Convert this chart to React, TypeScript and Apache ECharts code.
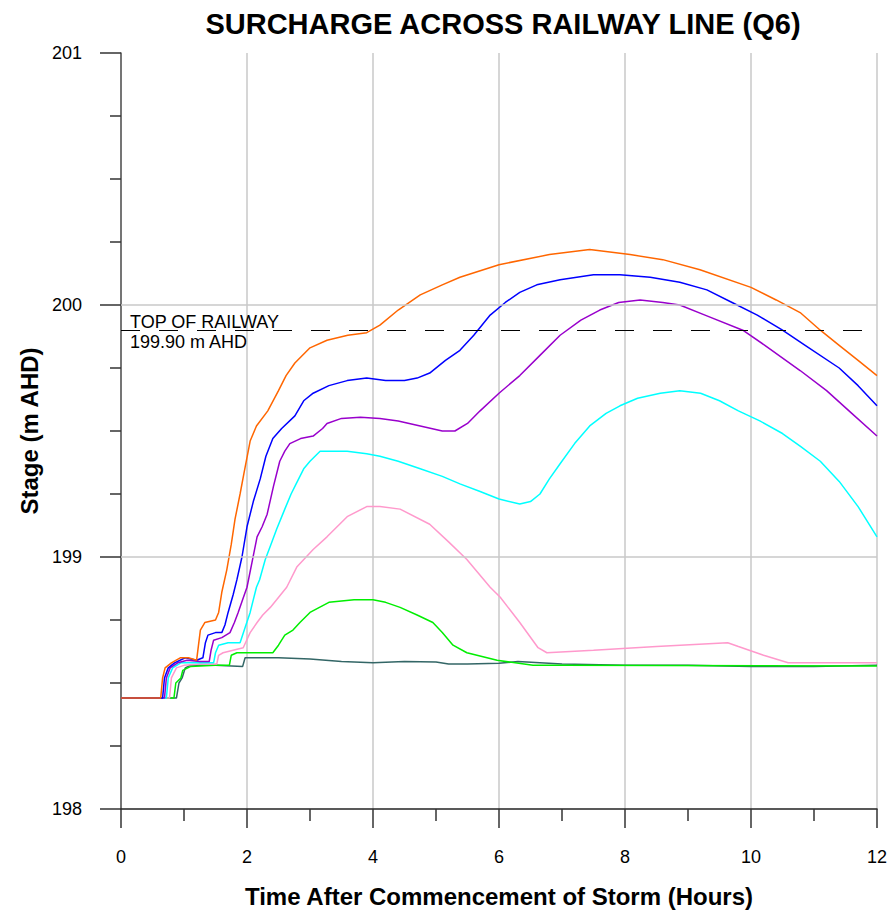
import React, { useEffect, useRef } from "react";
import * as echarts from "echarts";

const titleText = "SURCHARGE ACROSS RAILWAY LINE (Q6)";
const xName = "Time After Commencement of Storm (Hours)";
const yName = "Stage (m AHD)";
const railwayLevel = 199.9;
const railwayLabel1 = "TOP OF RAILWAY";
const railwayLabel2 = "199.90 m AHD";
const gridLevels = [199, 200];

const orange = [[0,198.44],[0.63,198.44],[0.66,198.52],[0.7,198.56],[0.8,198.58],[0.94,198.6],[1.07,198.6],[1.2,198.59],[1.23,198.65],[1.26,198.71],[1.33,198.74],[1.5,198.75],[1.55,198.78],[1.6,198.86],[1.68,198.95],[1.75,199.05],[1.81,199.15],[1.89,199.25],[1.95,199.33],[2.05,199.46],[2.15,199.52],[2.33,199.58],[2.5,199.66],[2.62,199.72],[2.76,199.77],[3.0,199.83],[3.27,199.86],[3.6,199.88],[3.9,199.89],[4.11,199.92],[4.4,199.98],[4.75,200.04],[5.1,200.08],[5.38,200.11],[6.0,200.16],[6.8,200.2],[7.44,200.22],[8.08,200.2],[8.6,200.18],[9.19,200.14],[10.0,200.07],[10.4,200.02],[10.78,199.97],[11.1,199.9],[11.4,199.84],[11.7,199.78],[12,199.72]];
const blue = [[0,198.44],[0.66,198.44],[0.69,198.52],[0.75,198.56],[0.85,198.58],[1.02,198.6],[1.2,198.59],[1.3,198.6],[1.34,198.66],[1.38,198.69],[1.5,198.7],[1.6,198.7],[1.65,198.73],[1.7,198.78],[1.78,198.85],[1.84,198.91],[1.92,199.0],[2.0,199.12],[2.1,199.22],[2.21,199.31],[2.3,199.4],[2.41,199.47],[2.55,199.51],[2.76,199.56],[2.9,199.62],[3.05,199.65],[3.3,199.68],[3.59,199.7],[3.9,199.71],[4.2,199.7],[4.5,199.7],[4.7,199.71],[4.9,199.73],[5.15,199.78],[5.38,199.82],[5.6,199.88],[5.86,199.96],[6.1,200.01],[6.33,200.05],[6.6,200.08],[6.97,200.1],[7.5,200.12],[7.92,200.12],[8.4,200.11],[8.87,200.09],[9.3,200.06],[9.7,200.01],[10.1,199.96],[10.5,199.9],[10.86,199.84],[11.4,199.75],[11.7,199.68],[12,199.6]];
const purple = [[0,198.44],[0.69,198.44],[0.72,198.52],[0.78,198.56],[0.9,198.58],[1.05,198.59],[1.25,198.585],[1.4,198.585],[1.43,198.63],[1.47,198.67],[1.6,198.68],[1.73,198.7],[1.8,198.74],[1.86,198.78],[1.93,198.83],[2.0,198.88],[2.08,198.98],[2.16,199.08],[2.24,199.12],[2.32,199.17],[2.42,199.28],[2.52,199.38],[2.6,199.42],[2.68,199.45],[2.85,199.47],[3.05,199.48],[3.2,199.51],[3.27,199.53],[3.5,199.55],[3.8,199.555],[4.11,199.55],[4.4,199.54],[4.75,199.52],[5.1,199.5],[5.3,199.5],[5.5,199.53],[5.7,199.58],[6.0,199.65],[6.33,199.72],[6.65,199.8],[6.97,199.88],[7.3,199.94],[7.6,199.98],[7.9,200.01],[8.24,200.02],[8.6,200.01],[8.87,200.0],[9.27,199.96],[9.87,199.9],[10.22,199.84],[10.78,199.74],[11.2,199.66],[11.6,199.57],[12,199.48]];
const cyan = [[0,198.44],[0.72,198.44],[0.75,198.52],[0.82,198.56],[0.95,198.58],[1.2,198.58],[1.47,198.58],[1.5,198.62],[1.55,198.65],[1.7,198.66],[1.89,198.66],[1.97,198.72],[2.05,198.78],[2.15,198.88],[2.2,198.91],[2.29,198.99],[2.38,199.05],[2.47,199.11],[2.6,199.19],[2.7,199.25],[2.78,199.29],[2.9,199.35],[3.0,199.38],[3.16,199.42],[3.59,199.42],[3.9,199.41],[4.11,199.4],[4.4,199.38],[4.75,199.35],[5.1,199.32],[5.38,199.29],[5.7,199.26],[6.0,199.23],[6.33,199.21],[6.5,199.22],[6.65,199.25],[6.8,199.31],[6.97,199.37],[7.2,199.45],[7.44,199.52],[7.7,199.57],[7.92,199.6],[8.2,199.63],[8.56,199.65],[8.87,199.66],[9.2,199.65],[9.5,199.62],[9.8,199.58],[10.14,199.54],[10.5,199.49],[10.78,199.44],[11.1,199.38],[11.4,199.3],[11.7,199.2],[12,199.08]];
const pink = [[0,198.44],[0.77,198.44],[0.8,198.52],[0.88,198.56],[1.0,198.57],[1.25,198.575],[1.52,198.575],[1.55,198.61],[1.62,198.62],[1.94,198.64],[2.05,198.7],[2.16,198.74],[2.25,198.77],[2.37,198.8],[2.47,198.83],[2.63,198.88],[2.79,198.96],[3.05,199.03],[3.27,199.08],[3.59,199.16],[3.9,199.2],[4.11,199.2],[4.43,199.19],[4.9,199.13],[5.2,199.06],[5.49,198.99],[5.86,198.88],[6.02,198.84],[6.33,198.74],[6.62,198.64],[6.76,198.62],[7.5,198.63],[8.5,198.645],[9.63,198.66],[9.8,198.645],[10.2,198.61],[10.59,198.58],[11.3,198.58],[12,198.58]];
const green = [[0,198.44],[0.84,198.44],[0.87,198.5],[0.95,198.52],[0.98,198.55],[1.1,198.565],[1.5,198.57],[1.72,198.57],[1.75,198.61],[1.84,198.62],[2.41,198.62],[2.5,198.65],[2.6,198.69],[2.73,198.71],[2.84,198.74],[3.0,198.78],[3.3,198.82],[3.7,198.83],[4.0,198.83],[4.2,198.82],[4.43,198.8],[4.7,198.77],[4.95,198.74],[5.1,198.7],[5.27,198.65],[5.49,198.62],[5.97,198.59],[6.54,198.57],[7,198.57],[12,198.567]];
const slate = [[0,198.44],[0.88,198.44],[0.92,198.5],[0.97,198.52],[1.02,198.56],[1.1,198.57],[1.5,198.57],[1.93,198.565],[1.97,198.6],[2.5,198.6],[3.0,198.595],[3.5,198.585],[4.0,198.58],[4.5,198.585],[5.0,198.583],[5.2,198.575],[5.5,198.575],[6.0,198.578],[6.3,198.585],[7,198.575],[8,198.57],[9,198.57],[10,198.565],[11,198.565],[12,198.57]];

const seriesList = [
  { name: "slate", color: "#336666", data: slate },
  { name: "green", color: "#00ee00", data: green },
  { name: "pink", color: "#ff99cc", data: pink },
  { name: "cyan", color: "#00ffff", data: cyan },
  { name: "purple", color: "#9900cc", data: purple },
  { name: "blue", color: "#0000ff", data: blue },
  { name: "orange", color: "#ff6600", data: orange },
];

const FONT = "Arial, 'Liberation Sans', sans-serif";

export default function App() {
  const ref = useRef<HTMLDivElement>(null);
  useEffect(() => {
    if (!ref.current) return;
    const chart = echarts.init(ref.current, null, { renderer: "svg" });
    const series: any[] = seriesList.map((s) => ({
      type: "line",
      name: s.name,
      data: s.data,
      showSymbol: false,
      symbol: "none",
      smooth: false,
      lineStyle: { color: s.color, width: 1.5 },
      itemStyle: { color: s.color },
      z: 3,
    }));
    series.unshift({
      type: "line",
      data: [],
      silent: true,
      z: 1,
      markLine: {
        silent: true,
        symbol: "none",
        label: { show: false },
        lineStyle: { color: "#c8c8c8", width: 1.5, type: "solid" },
        data: gridLevels.map((v) => ({ yAxis: v })),
      },
    });
    series.push({
      type: "line",
      data: [],
      silent: true,
      z: 4,
      markLine: {
        silent: true,
        symbol: "none",
        label: { show: false },
        lineStyle: { color: "#000", width: 1.2, type: [19, 19] },
        data: [{ yAxis: railwayLevel }],
      },
    });
    chart.setOption({
      animation: false,
      backgroundColor: "#fff",
      textStyle: { fontFamily: FONT },
      grid: { left: 121, right: 13, top: 53, bottom: 105 },
      graphic: [
        {
          type: "text",
          x: 503,
          y: 24,
          style: {
            text: titleText,
            font: `bold 29px ${FONT}`,
            fill: "#000",
            textAlign: "center",
            textVerticalAlign: "middle",
          },
        },
        {
          type: "text",
          x: 130,
          y: 322,
          z: 10,
          style: {
            text: railwayLabel1,
            font: `18px ${FONT}`,
            fill: "#000",
            textAlign: "left",
            textVerticalAlign: "middle",
          },
        },
        {
          type: "text",
          x: 130,
          y: 342,
          z: 10,
          style: {
            text: railwayLabel2,
            font: `18px ${FONT}`,
            fill: "#000",
            textAlign: "left",
            textVerticalAlign: "middle",
          },
        },
      ],
      xAxis: {
        type: "value",
        min: 0,
        max: 12,
        interval: 2,
        name: xName,
        nameLocation: "middle",
        nameGap: 75,
        nameTextStyle: { fontSize: 24, fontWeight: "bold", color: "#000", fontFamily: FONT },
        axisLine: { show: true, onZero: false, lineStyle: { color: "#222", width: 1.5 } },
        axisTick: { show: true, inside: false, length: 19, lineStyle: { color: "#333", width: 1.5 } },
        minorTick: { show: true, splitNumber: 2, length: 12, lineStyle: { color: "#333", width: 1.5 } },
        axisLabel: { fontSize: 18, color: "#000", margin: 39, fontFamily: FONT },
        splitLine: { show: true, lineStyle: { color: "#c8c8c8", width: 1.5 } },
      },
      yAxis: {
        type: "value",
        min: 198,
        max: 201,
        interval: 1,
        name: yName,
        nameLocation: "middle",
        nameGap: 77,
        nameTextStyle: { fontSize: 24, fontWeight: "bold", color: "#000", fontFamily: FONT },
        axisLine: { show: true, onZero: false, lineStyle: { color: "#555", width: 1.5 } },
        axisTick: { show: true, inside: false, length: 21, lineStyle: { color: "#333", width: 1.5 } },
        minorTick: { show: true, splitNumber: 4, length: 11, lineStyle: { color: "#333", width: 1.5 } },
        axisLabel: { fontSize: 18, color: "#000", margin: 39, fontFamily: FONT },
        splitLine: { show: false },
      },
      series,
    });
    return () => chart.dispose();
  }, []);
  return <div ref={ref} style={{ width: 890, height: 914, position: "absolute", left: 0, top: 0 }} />;
}
